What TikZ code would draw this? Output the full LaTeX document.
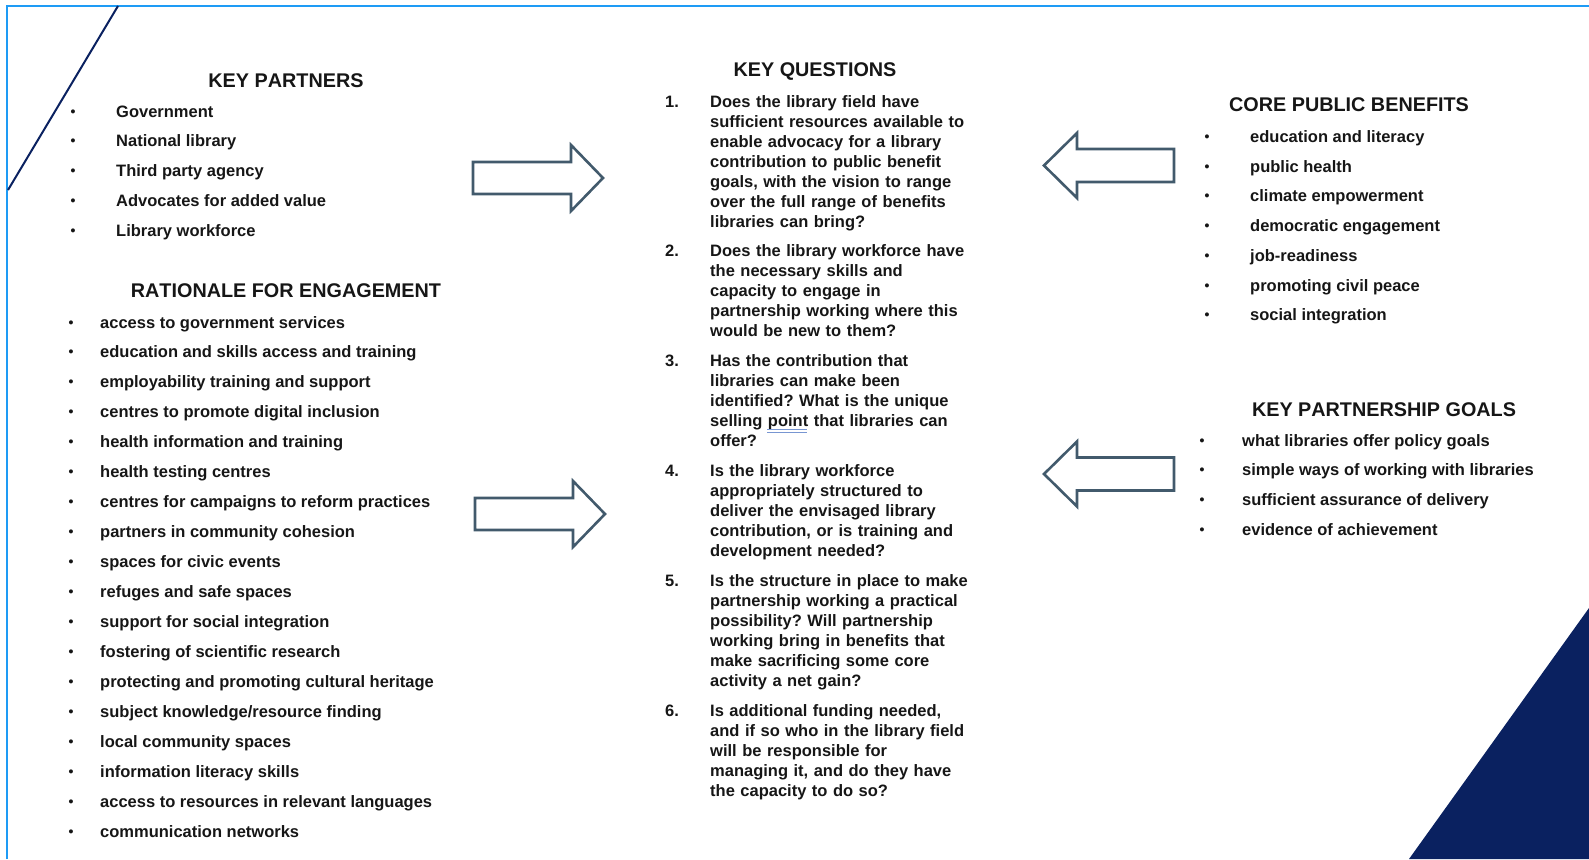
\documentclass[tikz,border=0pt]{standalone}
\usepackage{fontspec}
\setmainfont{Liberation Sans}[Kerning=Off]
\usepackage{xcolor}
\usepackage{tikz}
\usetikzlibrary{positioning}

\definecolor{frameblue}{RGB}{30,155,245}
\definecolor{navy}{RGB}{10,33,96}
\definecolor{arrowgrey}{RGB}{66,90,108}
\definecolor{ink}{RGB}{22,22,22}
\definecolor{squiggle}{RGB}{120,150,210}

\tikzset{
  head/.style={font=\bfseries\fontsize{19.8}{22}\selectfont, text=ink, inner sep=0pt, anchor=base},
  item/.style={font=\bfseries\fontsize{16.5}{20}\selectfont, text=ink, inner sep=0pt, anchor=base west},
  dot/.style={font=\bfseries\fontsize{14}{16}\selectfont, text=ink, inner sep=0pt, anchor=base},
  quest/.style={item, text width=290pt, align=left},
  blockarrow/.style={draw=arrowgrey, line width=2.6pt, line join=miter, fill=white},
}

\begin{document}
\frenchspacing
\begin{tikzpicture}[x=1pt, y=-1pt]
    \useasboundingbox (0,0) rectangle (1589,859);
    % frame and corner marks
    \draw[frameblue, line width=2.4pt] (7,859) -- (7,6) -- (1589,6);
    \draw[navy, line width=2pt] (118,6) -- (8,190);
    \fill[navy] (1589,608) -- (1589,859) -- (1409,859) -- cycle;

    % left column
    \node[head] (partners) at (286,87) {KEY PARTNERS};
    \foreach \txt [count=\i] in {Government, National library, Third party agency,
        Advocates for added value, Library workforce}{
        \node[dot] (pd\i) at (73,116+29.8*\i-29.8) {\textbullet};
        \node[item] (p\i) at (116,117+29.8*\i-29.8) {\txt};
    }
    \node[head] (rationale) at (286,297) {RATIONALE FOR ENGAGEMENT};
    \foreach \txt [count=\i] in {access to government services,
        education and skills access and training,
        employability training and support,
        centres to promote digital inclusion,
        health information and training,
        health testing centres,
        centres for campaigns to reform practices,
        partners in community cohesion,
        spaces for civic events,
        refuges and safe spaces,
        support for social integration,
        fostering of scientific research,
        protecting and promoting cultural heritage,
        subject knowledge/resource finding,
        local community spaces,
        information literacy skills,
        access to resources in relevant languages,
        communication networks}{
        \node[dot] (rd\i) at (71,327+29.95*\i-29.95) {\textbullet};
        \node[item] (r\i) at (100,328+29.95*\i-29.95) {\txt};
    }

    % middle column
    \node[head] (questions) at (815,77) {KEY QUESTIONS};
    \node[item] (n1) at (665,107.5) {1.};
    \node[quest] (q1) at (710,107.5) {Does the library field have\\
        sufficient resources available to\\ enable advocacy for a library\\
        contribution to public benefit\\ goals, with the vision to range\\
        over the full range of benefits\\ libraries can bring?};
    \node[item] (n2) at (665,256) {2.};
    \node[quest] (q2) at (710,256) {Does the library workforce have\\
        the necessary skills and\\ capacity to engage in\\
        partnership working where this\\ would be new to them?};
    \node[item] (n3) at (665,366.5) {3.};
    \node[quest] (q3) at (710,366.5) {Has the contribution that\\
        libraries can make been\\ identified? What is the unique\\
        selling point that libraries can\\ offer?};
    \node[item] (n4) at (665,476) {4.};
    \node[quest] (q4) at (710,476) {Is the library workforce\\
        appropriately structured to\\ deliver the envisaged library\\
        contribution, or is training and\\ development needed?};
    \node[item] (n5) at (665,586.5) {5.};
    \node[quest] (q5) at (710,586.5) {Is the structure in place to make\\
        partnership working a practical\\ possibility? Will partnership\\
        working bring in benefits that\\ make sacrificing some core\\
        activity a net gain?};
    \node[item] (n6) at (665,716.5) {6.};
    \node[quest] (q6) at (710,716.5) {Is additional funding needed,\\
        and if so who in the library field\\ will be responsible for\\
        managing it, and do they have\\ the capacity to do so?};
    % spelling mark under "point"
    \draw[squiggle, line width=0.8pt] (767,429.5) -- (807,429.5);
    \draw[squiggle, line width=0.8pt] (767,432) -- (807,432);

    % right column
    \node[head] (benefits) at (1349,111) {CORE PUBLIC BENEFITS};
    \foreach \txt [count=\i] in {education and literacy, public health,
        climate empowerment, democratic engagement, job-readiness,
        promoting civil peace, social integration}{
        \node[dot] (bd\i) at (1207,141.5+29.7*\i-29.7) {\textbullet};
        \node[item] (b\i) at (1250,142.5+29.7*\i-29.7) {\txt};
    }
    \node[head] (goals) at (1384,416) {KEY PARTNERSHIP GOALS};
    \foreach \txt [count=\i] in {what libraries offer policy goals,
        simple ways of working with libraries,
        sufficient assurance of delivery, evidence of achievement}{
        \node[dot] (gd\i) at (1202,445+29.7*\i-29.7) {\textbullet};
        \node[item] (g\i) at (1242,446+29.7*\i-29.7) {\txt};
    }

    % block arrows
    \coordinate (a1) at (473,178);
    \coordinate (a2) at (475,514);
    \coordinate (a3) at (1174,165.5);
    \coordinate (a4) at (1174,474);
    \foreach \a in {a1,a2}{
        \draw[blockarrow] (\a) ++(0,-16) -- ++(98,0) -- ++(0,-17) -- ++(32,33)
            -- ++(-32,33) -- ++(0,-17) -- ++(-98,0) -- cycle;
    }
    \foreach \a in {a3,a4}{
        \draw[blockarrow] (\a) ++(0,-16.5) -- ++(-97,0) -- ++(0,-16) -- ++(-33,32.5)
            -- ++(33,32.5) -- ++(0,-16) -- ++(97,0) -- cycle;
    }
\end{tikzpicture}
\end{document}
